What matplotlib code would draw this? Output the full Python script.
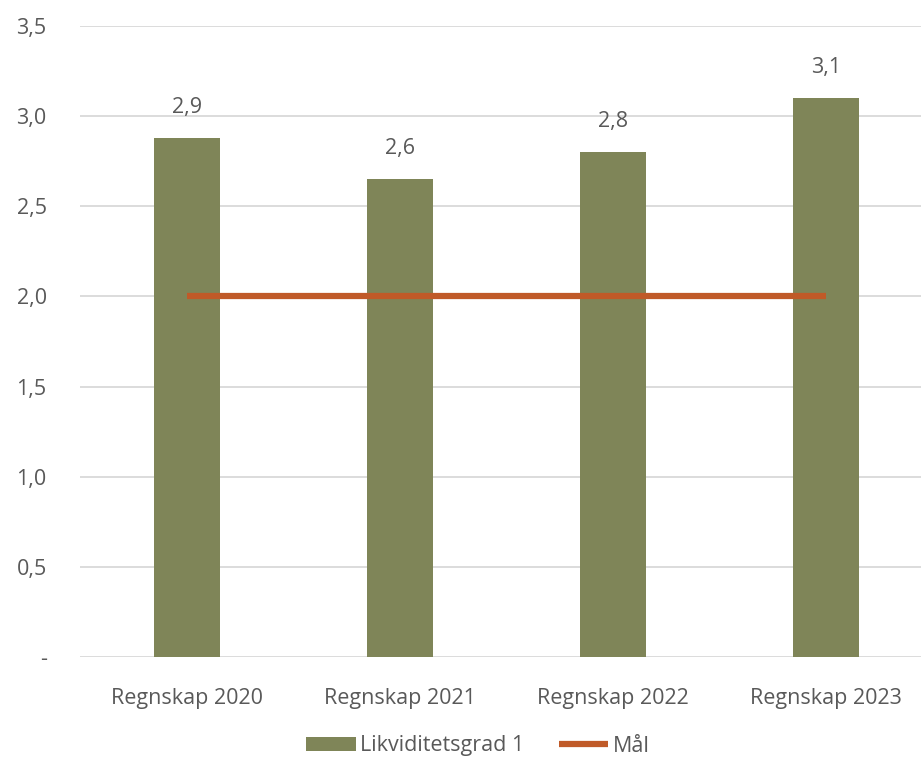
import numpy as np
import matplotlib.pyplot as plt
from matplotlib.ticker import FuncFormatter

plt.rcParams['font.family'] = ['Open Sans', 'DejaVu Sans']

kategorier = ["Regnskap 2020", "Regnskap 2021", "Regnskap 2022", "Regnskap 2023"]
likviditetsgrad = [2.88, 2.65, 2.80, 3.10]
etiketter = ["2,9", "2,6", "2,8", "3,1"]
maal = [2.0, 2.0, 2.0, 2.0]

bar_farge = "#7F8558"
linje_farge = "#C05A28"
tekst = "#595959"
fs = 15.5

fig = plt.figure(figsize=(9.21, 7.6), dpi=100)
ax = fig.add_axes([80/921, 103/760, 853/921, 631/760])

x = np.arange(len(kategorier))
b = ax.bar(x, likviditetsgrad, width=0.31, color=bar_farge, label="Likviditetsgrad 1", zorder=2)
l, = ax.plot(x, maal, color=linje_farge, lw=4.5, label="Mål", zorder=3, solid_capstyle="butt")

for xi, v, t in zip(x, likviditetsgrad, etiketter):
    ax.text(xi, v + 0.11, t, ha="center", va="bottom", fontsize=fs, color=tekst)

ax.set_xlim(-0.5, 3.5)
ax.set_ylim(0, 3.5)
ax.set_yticks(np.arange(0, 3.51, 0.5))
ax.yaxis.set_major_formatter(FuncFormatter(lambda v, p: "-" if v == 0 else f"{v:.1f}".replace(".", ",")))
ax.set_xticks(x)
ax.set_xticklabels(kategorier)
ax.grid(axis="y", color="#D9D9D9", lw=1.3, zorder=0)
for s in ax.spines.values():
    s.set_visible(False)
ax.tick_params(length=0, labelsize=fs, colors=tekst)
ax.tick_params(axis="x", pad=22)
ax.tick_params(axis="y", pad=24)

fig.legend([b, l], ["Likviditetsgrad 1", "Mål"], loc="center",
           bbox_to_anchor=(478/921, 1 - 746/760), ncol=2, frameon=False,
           fontsize=fs, labelcolor=tekst, handlelength=2.3, handleheight=0.6,
           columnspacing=1.6, handletextpad=0.2)

fig.savefig("out.png", dpi=100)
